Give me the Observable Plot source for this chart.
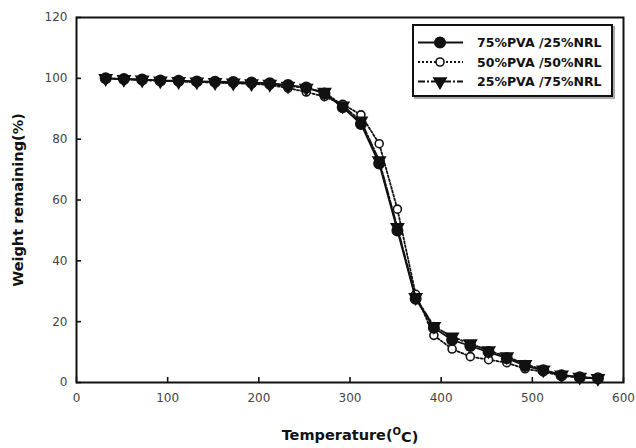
<!DOCTYPE html>
<html><head><meta charset="utf-8">
<script src="https://cdn.jsdelivr.net/npm/d3@7"></script>
<script src="https://cdn.jsdelivr.net/npm/@observablehq/plot@0.6"></script>
<style>
body{margin:0;background:#fff}
#wrap{position:relative;width:636px;height:448px;background:#fff}
#legend{position:absolute;left:412px;top:24px;width:197px;height:69px;border:2px solid #111;box-shadow:2px 2px 0 #aaa;background:#fff}
</style></head><body><div id="wrap"></div>
<script>
const temps = [32,52,72,92,112,132,152,172,192,212,232,252,272,292,312,332,352,372,392,412,432,452,472,492,512,532,552,572];
const w7525 = [100,99.8,99.6,99.3,99.2,99,98.9,98.8,98.6,98.4,97.8,97,95,90.5,85,72,50,27.5,18,14,12,10,8,5.5,4,2.4,1.7,1.4];
const w5050 = [100,99.7,99.5,99.2,99,98.8,98.6,98.4,98.2,97.8,96.8,95.5,94,91.5,88,78.5,57,29,15.5,11,8.5,7.5,6.5,4.5,3.5,2.2,1.6,1.3];
const w2575 = [100,99.7,99.5,99.2,99,98.9,98.7,98.5,98.3,98.1,97.5,96.8,95.5,91,86,73,51,28,18.5,15,12.8,10.5,8.5,6,4.2,2.5,1.8,1.4];
const seriesNames = ["75%PVA /25%NRL", "50%PVA /50%NRL", "25%PVA /75%NRL"];
const xTicks = [0,100,200,300,400,500,600];
const yTicks = [0,20,40,60,80,100,120];
const xLabel = "Temperature(";
const xLabelSup = "O";
const xLabelEnd = "C)";
const yLabel = "Weight remaining(%)";

const styles = [
  {name: seriesNames[0], values: w7525, symbol: "circle", fill: "#111", dash: null, rotate: 0, r: 5.2},
  {name: seriesNames[1], values: w5050, symbol: "circle", fill: "white", dash: "2,2", rotate: 0, r: 4.0},
  {name: seriesNames[2], values: w2575, symbol: "triangle", fill: "#111", dash: "7,2,2,2", rotate: 180, r: 4.5}
];
const drawOrder = [1, 2, 0];

const marks = [];
for (const k of drawOrder) {
  const s = styles[k];
  const d = temps.map((t, i) => ({t, w: s.values[i]}));
  marks.push(Plot.line(d, {x: "t", y: "w", stroke: "#111", strokeWidth: 1.8, strokeDasharray: s.dash}));
  marks.push(Plot.dot(d, {x: "t", y: "w", symbol: s.symbol, r: s.r, fill: s.fill, stroke: "#111", strokeWidth: 1.6, rotate: s.rotate}));
}

const chart = Plot.plot({
  width: 636, height: 448,
  marginLeft: 76, marginRight: 13, marginTop: 17, marginBottom: 66,
  style: {fontFamily: "DejaVu Sans", fontSize: "12px", color: "#444", background: "white"},
  x: {domain: [0, 600]},
  y: {domain: [0, 120]},
  marks: [
    Plot.axisX({ticks: xTicks, tickSize: -5, tickPadding: 16, tickFormat: d => String(d), strokeWidth: 1.6, stroke: "#111",
      label: xLabel, labelAnchor: "center", labelOffset: 57, labelArrow: "none"}),
    Plot.axisY({ticks: yTicks, tickSize: -5, tickPadding: 14, tickFormat: d => String(d), strokeWidth: 1.6, stroke: "#111",
      label: yLabel, labelAnchor: "center", labelOffset: 64, labelArrow: "none"}),
    Plot.frame({stroke: "#111", strokeWidth: 2}),
    ...marks
  ]
});
document.getElementById("wrap").appendChild(chart);

// style axis labels
const svg = d3.select(chart);
svg.selectAll('g[aria-label="x-axis label"] text, g[aria-label="y-axis label"] text')
  .attr("fill", "#111").style("font-weight", "bold").style("font-size", "14.5px");
const xl = svg.select('g[aria-label="x-axis label"] text');
xl.text(null);
xl.append("tspan").text(xLabel);
xl.append("tspan").attr("dy", "-0.45em").style("font-size", "10px").text(xLabelSup);
xl.append("tspan").attr("dy", "0.45em").text(xLabelEnd);

// legend
const leg = d3.select("#wrap").append("div").attr("id", "legend");
const ls = leg.append("svg").attr("width", 197).attr("height", 69);
styles.forEach((s, i) => {
  const g = ls.append("g").attr("transform", `translate(0,${16.5 + i * 19.5})`);
  g.append("line").attr("x1", 4).attr("x2", 49).attr("stroke", "#111").attr("stroke-width", 1.8)
    .attr("stroke-dasharray", s.dash);
  const sym = d3.symbol(s.symbol === "circle" ? d3.symbolCircle : d3.symbolTriangle, Math.PI * s.r * s.r);
  g.append("path").attr("d", sym()).attr("transform", `translate(26,0) rotate(${s.rotate})`)
    .attr("fill", s.fill).attr("stroke", "#111").attr("stroke-width", 1.6);
  g.append("text").attr("x", 63).attr("dy", "0.36em").attr("font-family", "DejaVu Sans")
    .attr("font-weight", "bold").attr("font-size", "12.5px").attr("fill", "#111").text(s.name);
});
</script></body></html>
